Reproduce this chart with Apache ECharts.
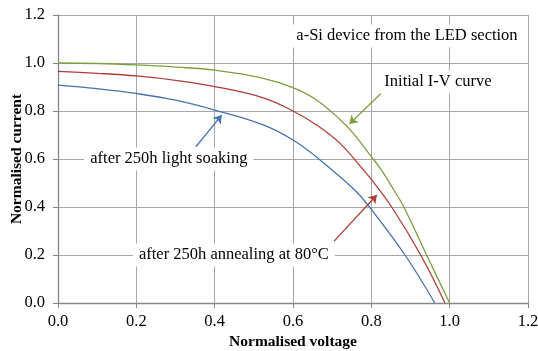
<!DOCTYPE html>
<html>
<head>
<meta charset="utf-8">
<script src="https://cdn.jsdelivr.net/npm/echarts@6/dist/echarts.min.js"></script>
<style>
  html, body { margin: 0; padding: 0; background: #fff; }
  #chart { width: 538px; height: 351px; }
</style>
</head>
<body>
<div id="chart"></div>
<script>
// Normalised I-V curves of an a-Si device
const voltageInitial = [0, 0.1, 0.2, 0.3, 0.4, 0.524, 0.6, 0.66, 0.72, 0.754, 0.8, 0.826, 0.856, 0.883, 0.941, 1.0];
const currentInitial = [1.0, 0.998, 0.992, 0.983, 0.970, 0.936, 0.897, 0.846, 0.765, 0.707, 0.61, 0.554, 0.475, 0.40, 0.20, 0.0];

const voltageAnnealed = [0, 0.1, 0.2, 0.3, 0.4, 0.524, 0.6, 0.66, 0.72, 0.78, 0.8, 0.852, 0.926, 0.988];
const currentAnnealed = [0.965, 0.957, 0.946, 0.928, 0.902, 0.855, 0.80, 0.742, 0.665, 0.554, 0.515, 0.40, 0.20, 0.0];

const voltageSoaked = [0, 0.1, 0.2, 0.3, 0.4, 0.524, 0.6, 0.669, 0.758, 0.8, 0.886, 0.962];
const currentSoaked = [0.908, 0.893, 0.873, 0.845, 0.804, 0.742, 0.679, 0.596, 0.47, 0.39, 0.20, 0.0];

const axisTicks = [0, 0.2, 0.4, 0.6, 0.8, 1.0, 1.2];

const seriesNames = ['Initial I-V curve', 'after 250h annealing at 80\u00B0C', 'after 250h light soaking'];
const noteText = 'a-Si device from the LED section';

// label anchors and arrow ends, in (voltage, current) units
const noteAnchor = [0.891, 1.1125];
const labelAnchors = [[0.970, 0.921], [0.449, 0.2], [0.283, 0.6]];
const arrowStarts = [[0.825, 0.874], [0.705, 0.258], [0.352, 0.651]];
const arrowEnds = [[0.744, 0.746], [0.814, 0.45], [0.418, 0.783]];

const colors = ['#7F9D3E', '#AE3D3B', '#4672AE'];
const FONT = '"Liberation Serif", "Times New Roman", serif';

function pairs(xs, ys) { return xs.map((x, i) => [x, ys[i]]); }
const curves = [
  pairs(voltageInitial, currentInitial),
  pairs(voltageAnnealed, currentAnnealed),
  pairs(voltageSoaked, currentSoaked)
];

const chart = echarts.init(document.getElementById('chart'), null, { renderer: 'canvas' });

const gridLine = { show: true, lineStyle: { color: '#A6A6A6', width: 1 } };
const axisCommon = {
  type: 'value', min: 0, max: 1.2, interval: 0.2,
  axisLine: { show: true, onZero: false, lineStyle: { color: '#868686', width: 1.3 } },
  axisTick: { show: true, length: 5, lineStyle: { color: '#868686' } },
  splitLine: gridLine,
  axisLabel: {
    fontFamily: FONT, fontSize: 16.5, color: '#000',
    formatter: v => axisTicks.find(t => Math.abs(t - v) < 1e-9).toFixed(1)
  },
  nameLocation: 'middle',
  nameMoveOverlap: false,
  nameTextStyle: { fontFamily: FONT, fontSize: 15.5, fontWeight: 'bold', color: '#000' }
};

chart.setOption({
  animation: false,
  backgroundColor: '#fff',
  grid: { left: 58, right: 10, top: 15, bottom: 48, containLabel: false, outerBoundsMode: 'none' },
  xAxis: Object.assign({}, axisCommon, {
    name: 'Normalised voltage', nameGap: 31,
    axisLabel: Object.assign({}, axisCommon.axisLabel, { margin: 10 })
  }),
  yAxis: Object.assign({}, axisCommon, {
    name: 'Normalised current', nameGap: 33,
    axisLabel: Object.assign({}, axisCommon.axisLabel, { margin: 13 })
  }),
  series: curves.map((data, i) => ({
    name: seriesNames[i],
    type: 'line',
    data: data,
    smooth: 0.4,
    showSymbol: false,
    symbol: 'none',
    lineStyle: { color: colors[i], width: 1.3 },
    itemStyle: { color: colors[i] },
    z: 3,
    markLine: {
      silent: true,
      symbol: ['none', 'arrow'],
      symbolSize: [8, 8],
      label: { show: false },
      lineStyle: { color: colors[i], width: 1.3, type: 'solid' },
      data: [[{ coord: arrowStarts[i] }, { coord: arrowEnds[i] }]]
    }
  }))
});

// text boxes with white backing, placed at data positions
function textBox(txt, at) {
  const p = chart.convertToPixel({ gridIndex: 0 }, at);
  return {
    type: 'text', x: p[0], y: p[1], z: 10,
    style: {
      text: txt, fill: '#000', font: '16.5px ' + FONT,
      align: 'center', verticalAlign: 'middle',
      backgroundColor: '#fff', padding: [3, 6]
    }
  };
}
const boxes = [textBox(noteText, noteAnchor)].concat(
  seriesNames.map((n, i) => textBox(n, labelAnchors[i]))
);
chart.setOption({ graphic: boxes });
</script>
</body>
</html>
